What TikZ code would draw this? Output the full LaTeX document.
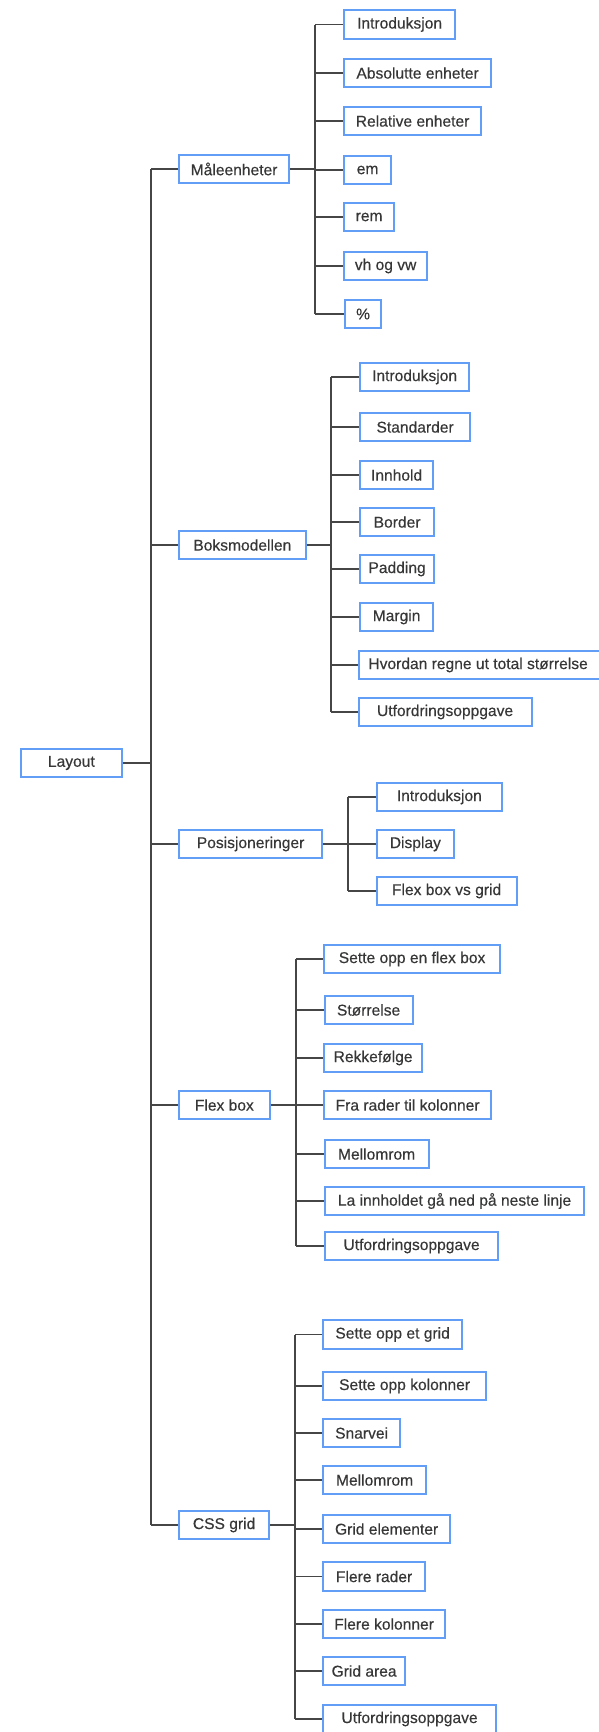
\documentclass[tikz,border=0pt]{standalone}
\usepackage{fontspec}
\setmainfont{Liberation Sans}
\newfontfamily\boxfont[FakeBold=0.3]{Liberation Sans}
\definecolor{boxblue}{RGB}{98,157,246}
\definecolor{linegray}{RGB}{70,70,70}
\definecolor{textgray}{RGB}{55,55,55}
\tikzset{
  box/.style={draw=boxblue, line width=2.2pt, fill=white, anchor=west,
    minimum height=28.5pt, inner sep=0pt, text=textgray,
    font=\boxfont\fontsize{15.6}{18}\selectfont},
  link/.style={draw=linegray, line width=1.3pt}
}
% \bx{name}{left x}{centre y}{outer width}{text}
\newcommand{\bx}[5]{\node[box, minimum width=#4pt-2pt] (#1) at (#2+1,#3) {#5};}
\begin{document}
\begin{tikzpicture}[x=1pt, y=-1pt]
\useasboundingbox (0,0) rectangle (598,1732);

% x positions of the vertical trunks
\coordinate (rootT) at (151,0);
\coordinate (maalT) at (315,0);
\coordinate (boksT) at (331,0);
\coordinate (posT)  at (348,0);
\coordinate (flexT) at (296,0);
\coordinate (cssT)  at (295,0);

% root and first level
\bx{layout}{18.5}{763}{103.5}{Layout}
\bx{maal}{177}{169}{112}{Måleenheter}
\bx{boks}{177}{545}{128.5}{Boksmodellen}
\bx{pos}{177}{844}{145}{Posisjoneringer}
\bx{flex}{177}{1105}{92.5}{Flex box}
\bx{css}{177}{1525}{92}{CSS grid}

% Måleenheter
\bx{m1}{342}{24.5}{113}{Introduksjon}
\bx{m2}{342}{73}{149}{Absolutte enheter}
\bx{m3}{342}{121}{139}{Relative enheter}
\bx{m4}{342}{170}{49}{em}
\bx{m5}{342}{217}{52}{rem}
\bx{m6}{342}{266}{85}{vh og vw}
\bx{m7}{343}{314}{38}{\%}

% Boksmodellen
\bx{b1}{358}{377}{111}{Introduksjon}
\bx{b2}{358}{427}{112}{Standarder}
\bx{b3}{358}{475}{75}{Innhold}
\bx{b4}{358}{522}{76}{Border}
\bx{b5}{358}{569}{76}{Padding}
\bx{b6}{358}{617}{75}{Margin}
\bx{b7}{356.5}{665}{255}{\hspace*{-14pt}Hvordan regne ut total størrelse}
\bx{b8}{356.5}{712}{175}{Utfordringsoppgave}

% Posisjoneringer
\bx{p1}{374.5}{797}{127.5}{Introduksjon}
\bx{p2}{374.5}{844}{79.5}{Display}
\bx{p3}{374.5}{891}{142}{Flex box vs grid}

% Flex box
\bx{f1}{322}{959}{178}{Sette opp en flex box}
\bx{f2}{322.5}{1010}{90}{Størrelse}
\bx{f3}{322}{1058}{100}{Rekkefølge}
\bx{f4}{322}{1105}{169}{Fra rader til kolonner}
\bx{f5}{322.5}{1154}{106}{Mellomrom}
\bx{f6}{323}{1201}{261}{La innholdet gå ned på neste linje}
\bx{f7}{323}{1246}{175}{Utfordringsoppgave}

% CSS grid
\bx{g1}{321}{1334.5}{141}{Sette opp et grid}
\bx{g2}{321}{1386}{165}{Sette opp kolonner}
\bx{g3}{321}{1433}{79}{Snarvei}
\bx{g4}{321}{1480}{105}{Mellomrom}
\bx{g5}{321}{1529}{129}{Grid elementer}
\bx{g6}{321}{1576.5}{104}{Flere rader}
\bx{g7}{321}{1624}{124}{Flere kolonner}
\bx{g8}{321}{1671}{84}{Grid area}
\bx{g9}{321}{1719}{175}{Utfordringsoppgave}

% root branch
\draw[link] (layout.east) -- (layout.east -| rootT);
\draw[link] (rootT |- maal.west) -- (rootT |- css.west);
\foreach \n in {maal,boks,pos,flex,css}
  \draw[link] (rootT |- \n.west) -- (\n.west);

% Måleenheter branch
\draw[link] (maal.east) -- (maal.east -| maalT);
\draw[link] (maalT |- m1.west) -- (maalT |- m7.west);
\foreach \n in {m1,m2,m3,m4,m5,m6,m7}
  \draw[link] (maalT |- \n.west) -- (\n.west);

% Boksmodellen branch
\draw[link] (boks.east) -- (boks.east -| boksT);
\draw[link] (boksT |- b1.west) -- (boksT |- b8.west);
\foreach \n in {b1,b2,b3,b4,b5,b6,b7,b8}
  \draw[link] (boksT |- \n.west) -- (\n.west);

% Posisjoneringer branch
\draw[link] (pos.east) -- (pos.east -| posT);
\draw[link] (posT |- p1.west) -- (posT |- p3.west);
\foreach \n in {p1,p2,p3}
  \draw[link] (posT |- \n.west) -- (\n.west);

% Flex box branch
\draw[link] (flex.east) -- (flex.east -| flexT);
\draw[link] (flexT |- f1.west) -- (flexT |- f7.west);
\foreach \n in {f1,f2,f3,f4,f5,f6,f7}
  \draw[link] (flexT |- \n.west) -- (\n.west);

% CSS grid branch
\draw[link] (css.east) -- (css.east -| cssT);
\draw[link] (cssT |- g1.west) -- (cssT |- g9.west);
\foreach \n in {g1,g2,g3,g4,g5,g6,g7,g8,g9}
  \draw[link] (cssT |- \n.west) -- (\n.west);
\end{tikzpicture}
\end{document}
